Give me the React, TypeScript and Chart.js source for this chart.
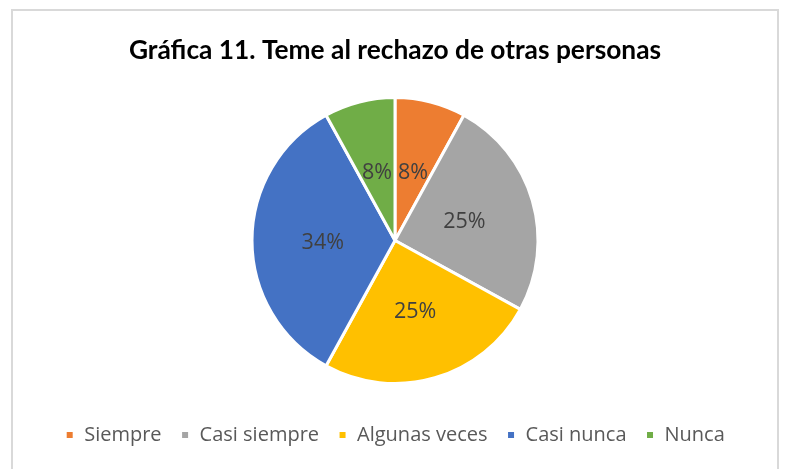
import React, { useEffect, useRef } from "react";
import { Chart, registerables } from "chart.js";

Chart.register(...registerables);

const categories = ["Siempre", "Casi siempre", "Algunas veces", "Casi nunca", "Nunca"];
const values = [8, 25, 25, 34, 8];
const colors = ["#ED7D31", "#A5A5A5", "#FFC000", "#4472C4", "#70AD47"];
const titleText = "Gráfica 11. Teme al rechazo de otras personas";

const framePlugin = {
  id: "frame",
  beforeDraw(chart: any) {
    const ctx = chart.ctx;
    ctx.save();
    ctx.fillStyle = "#FFFFFF";
    ctx.fillRect(0, 0, chart.width, chart.height);
    ctx.strokeStyle = "#D9D9D9";
    ctx.lineWidth = 2;
    ctx.strokeRect(12, 10, 766, 480);
    ctx.restore();
  },
};

const labelPlugin = {
  id: "sliceLabels",
  afterDatasetsDraw(chart: any) {
    const ctx = chart.ctx;
    const meta = chart.getDatasetMeta(0);
    const data = chart.data.datasets[0].data as number[];
    const total = data.reduce((a, b) => a + b, 0);
    ctx.save();
    ctx.font = "21.5px 'Open Sans'";
    ctx.fillStyle = "#404040";
    ctx.textAlign = "center";
    ctx.textBaseline = "middle";
    meta.data.forEach((arc: any, i: number) => {
      const { x, y, startAngle, endAngle, outerRadius } = arc.getProps(
        ["x", "y", "startAngle", "endAngle", "outerRadius"],
        true
      );
      const mid = (startAngle + endAngle) / 2;
      const r = outerRadius * 0.505;
      const pct = Math.round((data[i] / total) * 100) + "%";
      ctx.fillText(pct, x + Math.cos(mid) * r, y + 2 + Math.sin(mid) * r);
    });
    ctx.restore();
  },
};

export default function App() {
  const ref = useRef<HTMLCanvasElement>(null);
  useEffect(() => {
    if (!ref.current) return;
    const chart = new Chart(ref.current, {
      type: "pie",
      data: {
        labels: categories,
        datasets: [
          {
            data: values,
            backgroundColor: colors,
            borderColor: "#FFFFFF",
            borderWidth: 3,
            radius: 143,
          },
        ],
      },
      options: {
        responsive: false,
        animation: false,
        layout: { padding: { top: 0, bottom: 14, left: 2, right: 0 } },
        plugins: {
          title: {
            display: true,
            text: titleText,
            color: "#000000",
            font: { family: "Lato", size: 26.3, weight: "bold" },
            padding: { top: 35, bottom: 8.4 },
          },
          legend: {
            display: true,
            position: "bottom",
            labels: {
              boxWidth: 9,
              boxHeight: 9,
              padding: 19,
              color: "#595959",
              font: { family: "'Open Sans'", size: 20 },
            },
          },
          tooltip: { enabled: false },
        },
      },
      plugins: [framePlugin, labelPlugin],
    });
    return () => chart.destroy();
  }, []);
  return (
    <div style={{ position: "absolute", left: 0, top: 0, width: 788, height: 469 }}>
      <canvas ref={ref} width={788} height={469} style={{ width: 788, height: 469, display: "block" }} />
    </div>
  );
}
